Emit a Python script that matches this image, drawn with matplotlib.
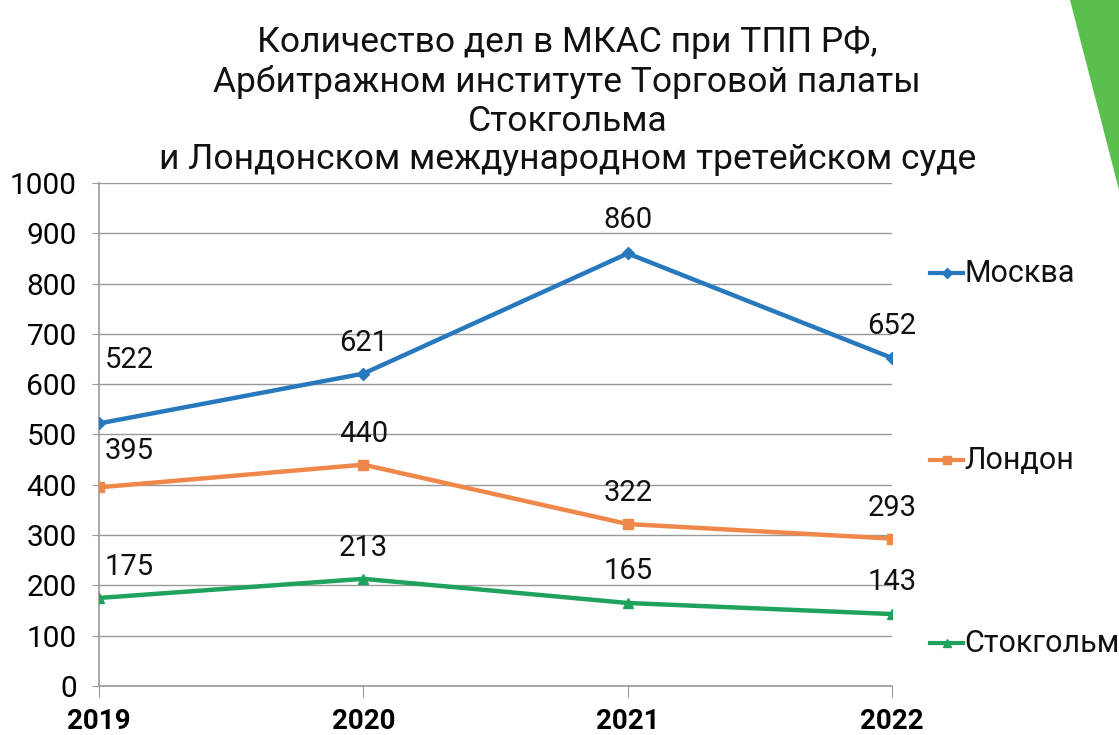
import matplotlib.pyplot as plt
import matplotlib as mpl
from matplotlib.patches import Polygon
from matplotlib.lines import Line2D

mpl.rcParams['font.family'] = ['Roboto', 'DejaVu Sans']

years = ['2019', '2020', '2021', '2022']
moscow = [522, 621, 860, 652]
london = [395, 440, 322, 293]
stockholm = [175, 213, 165, 143]

series = [
    ('Москва', moscow, '#2878BE', 'D', 6),
    ('Лондон', london, '#F0874A', 's', 7),
    ('Стокгольм', stockholm, '#1FA35C', '^', 7),
]

# label offsets (points) for data labels
offsets = {
    'Москва': [(22, 46), (0, 22), (0, 24), (0, 23)],
    'Лондон': [(22, 26), (0, 22), (0, 22), (0, 22)],
    'Стокгольм': [(22, 22), (0, 22), (0, 23), (0, 23)],
}
legend_y = {'Москва': 0.628, 'Лондон': 0.374, 'Стокгольм': 0.125}

fig = plt.figure(figsize=(11.19, 7.35), dpi=100)
ax = fig.add_axes([0.0885, 0.0667, 0.7087, 0.6843])

x = range(len(years))
for name, vals, col, mk, ms in series:
    ax.plot(x, vals, color=col, lw=3.2, marker=mk, markersize=ms, zorder=3)
    for i, v in enumerate(vals):
        dx, dy = offsets[name][i]
        ax.annotate(str(v), (i, v), xytext=(dx, dy), textcoords='offset points',
                    ha='center', va='center', fontsize=21, color='#111111')
    # legend entry
    ly = legend_y[name]
    fig.add_artist(Line2D([0.831, 0.861], [ly, ly], transform=fig.transFigure,
                          color=col, lw=3))
    fig.add_artist(Line2D([0.846], [ly], transform=fig.transFigure,
                          color=col, marker=mk, markersize=ms - 1, lw=0))
    fig.text(0.862, ly, name, fontsize=22, va='center', ha='left', color='#111111')

ax.set_xlim(0, 3)
ax.set_ylim(0, 1000)
ax.set_yticks(range(0, 1001, 100))
ax.set_xticks(list(x))
ax.set_xticklabels(years, fontsize=20, fontweight='bold')
ax.tick_params(axis='y', labelsize=21.5, length=5, color='#999999', pad=11)
ax.tick_params(axis='x', length=8, color='#999999', pad=8)
ax.grid(axis='y', color='#999999', lw=1)
ax.set_axisbelow(True)
for s in ['top', 'right']:
    ax.spines[s].set_visible(False)
ax.spines['left'].set_color('#999999')
ax.spines['bottom'].set_color('#999999')
ax.spines['left'].set_linewidth(1.2)
ax.spines['bottom'].set_linewidth(1.2)

fig.text(0.507, 0.7605, 'Количество дел в МКАС при ТПП РФ,\nАрбитражном институте Торговой палаты\nСтокгольма\nи Лондонском международном третейском суде',
         ha='center', va='bottom', fontsize=25.5, linespacing=1.21, color='#111111')

# green corner decoration
fig.add_artist(Polygon([[1070 / 1119, 1], [1, 1], [1, 1 - 190 / 735]], closed=True,
                       transform=fig.transFigure, color='#5BBF4E', lw=0))

fig.savefig('out.png', dpi=100)
